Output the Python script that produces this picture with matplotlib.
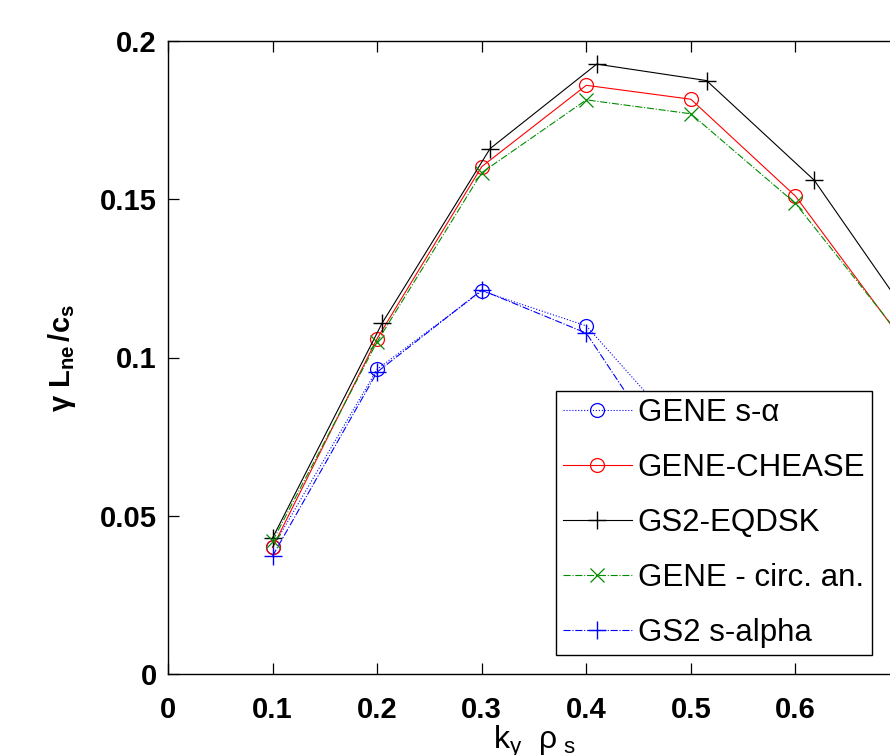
import matplotlib
matplotlib.use("Agg")
import matplotlib.pyplot as plt

plt.rcParams['font.family'] = ['Liberation Sans', 'DejaVu Sans']
plt.rcParams['mathtext.fontset'] = 'custom'
plt.rcParams['mathtext.rm'] = 'Liberation Sans'
plt.rcParams['mathtext.it'] = 'Liberation Sans'
plt.rcParams['mathtext.bf'] = 'Liberation Sans:bold'

# Data
ky_gene = [0.1, 0.2, 0.3, 0.4, 0.5, 0.6, 0.7]
gene_salpha_ky = [0.1, 0.2, 0.3, 0.4, 0.5, 0.6]
gene_salpha = [0.040, 0.0963, 0.121, 0.110, 0.073, 0.045]
gene_chease = [0.040, 0.106, 0.1603, 0.186, 0.1816, 0.151, 0.1065]
ky_gs2_eqdsk = [0.1, 0.205, 0.308, 0.41, 0.515, 0.618, 0.72]
gs2_eqdsk = [0.043, 0.111, 0.166, 0.1927, 0.1875, 0.156, 0.1075]
gene_circ = [0.042, 0.105, 0.1584, 0.1814, 0.177, 0.1487, 0.107]
gs2_salpha_ky = [0.1, 0.2, 0.3, 0.4, 0.5]
gs2_salpha = [0.0373, 0.0954, 0.1213, 0.1077, 0.058]

labels = ['GENE s-α', 'GENE-CHEASE', 'GS2-EQDSK', 'GENE - circ. an.', 'GS2 s-alpha']
xticks = [0, 0.1, 0.2, 0.3, 0.4, 0.5, 0.6, 0.7]
xticklabels = ['0', '0.1', '0.2', '0.3', '0.4', '0.5', '0.6', '']
yticks = [0, 0.05, 0.1, 0.15, 0.2]
yticklabels = ['0', '0.05', '0.1', '0.15', '0.2']

fig = plt.figure(figsize=(8.9, 7.55), dpi=100)
ax = fig.add_axes([168/890, 81/755, 732/890, 633/755])

lw = 0.8
ax.plot(gene_salpha_ky, gene_salpha, color='blue', linestyle=':', marker='o',
        markersize=10, markerfacecolor='none', markeredgewidth=0.9, linewidth=lw, label=labels[0])
ax.plot(ky_gene, gene_chease, color='red', linestyle='-', marker='o',
        markersize=10, markerfacecolor='none', markeredgewidth=0.9, linewidth=lw, label=labels[1])
ax.plot(ky_gs2_eqdsk, gs2_eqdsk, color='black', linestyle='-', marker='+',
        markersize=13, markeredgewidth=1.0, linewidth=lw, label=labels[2])
ax.plot(ky_gene, gene_circ, color=(0, 0.55, 0), linestyle='-.', marker='x',
        markersize=10, markeredgewidth=0.9, linewidth=lw, label=labels[3])
ax.plot(gs2_salpha_ky, gs2_salpha, color='blue', linestyle='-.', marker='+',
        markersize=13, markeredgewidth=1.0, linewidth=lw, label=labels[4])

ax.set_xlim(0, 0.7)
ax.set_ylim(0, 0.2)
ax.set_xticks(xticks)
ax.set_xticklabels(xticklabels)
ax.set_yticks(yticks)
ax.set_yticklabels(yticklabels)
ax.tick_params(direction='in', length=8, width=0.9, top=True, right=False,
               labelsize=21)
ax.tick_params(axis='x', pad=16)
ax.tick_params(axis='y', pad=8)
for lab in ax.get_xticklabels() + ax.get_yticklabels():
    lab.set_fontweight('bold')
for s in ax.spines.values():
    s.set_linewidth(1.0)

ax.set_ylabel(r'$\mathbf{\gamma\ L_{ne}\,/c_s}$', fontsize=21, labelpad=16)
ax.set_xlabel(r'$k_{y}\ \ \rho_{\ s}$', fontsize=23, labelpad=0)

leg = ax.legend(loc='lower left', bbox_to_anchor=(0.530, 0.030), fontsize=22.5,
                frameon=True, fancybox=False, edgecolor='black', framealpha=1,
                handlelength=2.2, handletextpad=0.2, labelspacing=0.8,
                borderpad=0.22, borderaxespad=0)
leg.get_frame().set_linewidth(1.0)

fig.savefig('out.png', dpi=100)
